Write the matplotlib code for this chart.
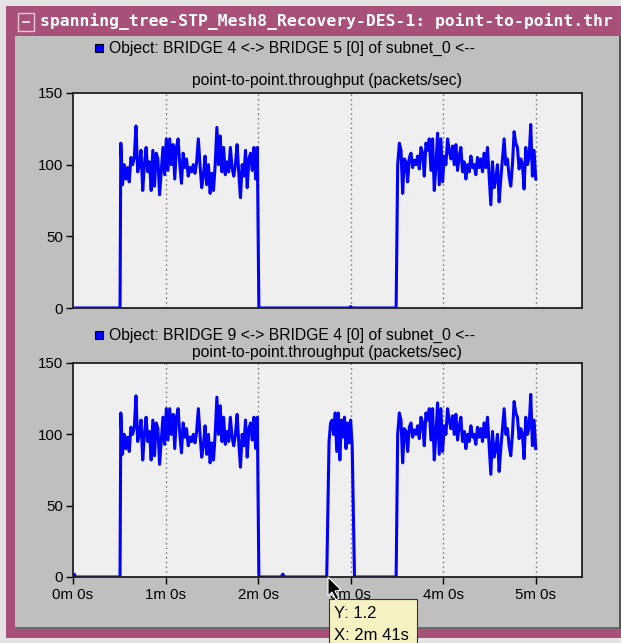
import numpy as np
import matplotlib.pyplot as plt
from matplotlib.patches import Rectangle, Polygon

# throughput samples (packets/sec)
burst_a = [115, 86, 100, 90, 98, 88, 105, 100, 105, 127, 95, 100, 110, 82, 100,
           112, 95, 102, 82, 110, 85, 108, 104, 79, 96, 112, 93, 118, 96, 118,
           100, 114, 90, 112, 118, 100, 87, 108, 98, 104, 92, 98, 95, 100, 94,
           102, 118, 100, 84, 92, 106, 86, 100, 80, 94, 82, 100, 126, 100, 120,
           95, 112, 93, 102, 95, 112, 98, 92, 100, 114, 94, 77, 100, 92, 110,
           84, 104, 108, 96, 112, 90, 112]
burst_b = [100, 115, 110, 80, 104, 102, 88, 105, 108, 98, 103, 100, 106, 97, 112,
           108, 92, 115, 110, 118, 96, 118, 82, 100, 122, 86, 118, 88, 106, 100,
           118, 110, 104, 113, 100, 114, 96, 106, 112, 95, 102, 90, 100, 95, 106,
           98, 100, 93, 105, 98, 104, 95, 108, 98, 112, 92, 72, 102, 84, 90,
           100, 74, 90, 104, 118, 100, 104, 92, 85, 100, 123, 115, 112, 97, 104,
           100, 83, 112, 100, 105, 128, 92, 110, 90]
burst_short = [95, 108, 110, 100, 115, 88, 115, 82, 110, 98, 112, 90, 108, 94, 110, 92]

t_a = list(np.linspace(31, 119.5, len(burst_a)))
t_b = list(np.linspace(210.5, 300, len(burst_b)))
t_s = list(np.linspace(166, 181, len(burst_short)))

t_top = [0, 30.5] + t_a + [120.5, 179, 180, 181, 209.5] + t_b
v_top = [0, 0] + burst_a + [0, 0, 1, 0, 0] + burst_b

t_bot = [0, 0.8, 1.6, 30.5] + t_a + [120.5, 135, 136, 137, 164.5] + t_s + [182.5, 209.5] + t_b
v_bot = [2, 2, 0, 0] + burst_a + [0, 0, 2, 0, 0] + burst_short + [0, 0] + burst_b

x_ticks = [0, 60, 120, 180, 240, 300]
x_labels = ["0m 0s", "1m 0s", "2m 0s", "3m 0s", "4m 0s", "5m 0s"]
y_ticks = [0, 50, 100, 150]

legends = ["Object: BRIDGE 4 <-> BRIDGE 5 [0] of subnet_0 <--",
           "Object: BRIDGE 9 <-> BRIDGE 4 [0] of subnet_0 <--"]
stat = "point-to-point.throughput (packets/sec)"
win_title = "spanning_tree-STP_Mesh8_Recovery-DES-1: point-to-point.thr"

W, H = 621, 643
fig = plt.figure(figsize=(W / 100, H / 100), dpi=100)
fig.patch.set_facecolor("#e4e4e4")
plt.rcParams["font.family"] = ["Liberation Sans", "DejaVu Sans"]


def px(x, y):
    return x / W, 1 - y / H


def rect(x0, y0, x1, y1, z=-10, **kw):
    fig.patches.append(Rectangle(px(x0, y1), (x1 - x0) / W, (y1 - y0) / H,
                                 transform=fig.transFigure, zorder=z, **kw))


# window frame
rect(6, 6, 621, 638, facecolor="#a9507a", edgecolor="none")
rect(15, 36, 619, 629, facecolor="#bfbfbf", edgecolor="none")
rect(619, 36, 621, 629, facecolor="#555555", edgecolor="none")
rect(15, 627, 619, 629, facecolor="#6a6a6a", edgecolor="none")
rect(18, 13, 34, 31, facecolor="#a9507a", edgecolor="#e8c8d8", linewidth=1)
rect(22, 21, 30, 23, facecolor="#f0d8e4", edgecolor="none")
fig.text(*px(40, 22), win_title, color="white", fontsize=11.8, fontweight="bold",
         family="DejaVu Sans Mono", va="center", ha="left")

boxes = [(73, 93, 582, 308), (73, 363, 582, 577)]
series = [(t_top, v_top), (t_bot, v_bot)]
legend_y = [48, 335]
title_y = [81, 352]

for i, ((x0, y0, x1, y1), (t, v)) in enumerate(zip(boxes, series)):
    l, b = px(x0, y1)
    ax = fig.add_axes([l, b, (x1 - x0) / W, (y1 - y0) / H])
    ax.set_facecolor("#efefef")
    ax.plot(t, v, color="#0000ff", linewidth=2.2, solid_joinstyle="round")
    ax.set_xlim(0, 330)
    ax.set_ylim(0, 150)
    ax.set_yticks(y_ticks)
    ax.set_xticks(x_ticks)
    for xt in x_ticks[1:]:
        ax.axvline(xt, color="#808080", linestyle=(0, (1.2, 2.2)), linewidth=1.0, zorder=0)
    for s in ax.spines.values():
        s.set_linewidth(1.3)
        s.set_color("#202020")
    ax.tick_params(axis="y", direction="out", length=5, width=1, labelsize=10.8, pad=2)
    if i == 1:
        ax.set_xticklabels(x_labels)
        ax.tick_params(axis="x", direction="out", length=5, width=1, labelsize=10.8, pad=3)
    else:
        ax.tick_params(axis="x", length=0, labelbottom=False)
    rect(95, legend_y[i] - 4, 103, legend_y[i] + 4, z=10, facecolor="#0000ff",
         edgecolor="black", linewidth=0.8)
    fig.text(*px(109, legend_y[i]), legends[i], fontsize=11.3, va="center", ha="left")
    fig.text(*px(327, title_y[i]), stat, fontsize=11.3, va="center", ha="center")

# tooltip and pointer
rect(329, 599, 417, 650, z=10, facecolor="#f5f1c0", edgecolor="#333333", linewidth=0.8)
fig.text(*px(334, 614), "Y: 1.2", fontsize=12, va="center", ha="left", zorder=11)
fig.text(*px(334, 636), "X: 2m 41s", fontsize=12, va="center", ha="left", zorder=11)
arrow = np.array([[328, 577], [328, 596], [332, 592], [336, 600], [339, 598], [335, 591], [341, 590]])
fig.patches.append(Polygon([px(x, y) for x, y in arrow], closed=True, transform=fig.transFigure,
                           facecolor="black", edgecolor="white", linewidth=0.8, zorder=12))

fig.savefig("out.png", dpi=100)
